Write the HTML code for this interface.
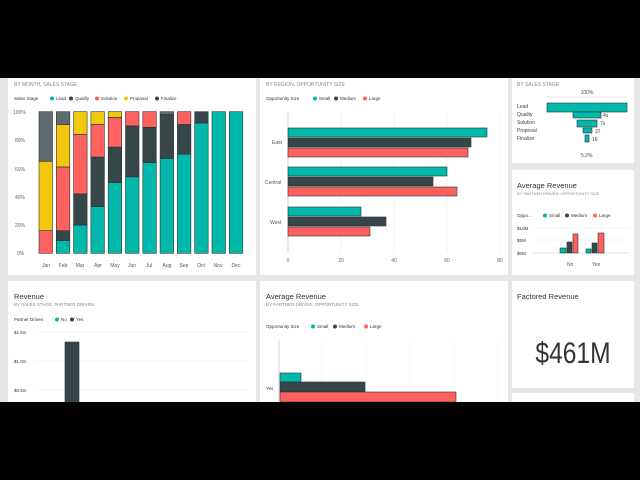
<!DOCTYPE html>
<html><head><meta charset="utf-8"><style>
html,body{margin:0;padding:0;background:#000;}
svg{display:block;font-family:"Liberation Sans",sans-serif;}
.bo rect{stroke:#2a3335;stroke-width:0.6;}
</style></head><body>
<svg width="640" height="480" viewBox="0 0 640 480" xmlns="http://www.w3.org/2000/svg">
<rect x="0" y="0" width="640" height="480" fill="#000"/>
<rect x="0" y="78" width="640" height="324" fill="#e6e6e6"/>
<rect x="8" y="74" width="248" height="201" fill="#fff"/>
<rect x="260" y="74" width="248" height="201" fill="#fff"/>
<rect x="512" y="74" width="122" height="89" fill="#fff"/>
<rect x="512" y="170" width="122" height="105" fill="#fff"/>
<rect x="8" y="281" width="248" height="125" fill="#fff"/>
<rect x="260" y="281" width="248" height="125" fill="#fff"/>
<rect x="512" y="281" width="122" height="107" fill="#fff"/>
<rect x="512" y="393" width="122" height="15" fill="#fff"/>

<text x="14" y="86" font-size="5" fill="#888">BY MONTH, SALES STAGE</text>
<g font-size="4.5" fill="#333">
<text x="14" y="100">Sales Stage</text>
<circle cx="52" cy="98.5" r="2" fill="#01b8aa"/><text x="56" y="100">Lead</text>
<circle cx="71" cy="98.5" r="2" fill="#374649"/><text x="75" y="100">Qualify</text>
<circle cx="97" cy="98.5" r="2" fill="#fd625e"/><text x="101" y="100">Solution</text>
<circle cx="126" cy="98.5" r="2" fill="#f2c80f"/><text x="130" y="100">Proposal</text>
<circle cx="157" cy="98.5" r="2" fill="#374649"/><text x="161" y="100">Finalize</text>
</g>
<g font-size="5" fill="#666">
<text x="13" y="114">100%</text><text x="15" y="142">80%</text><text x="15" y="171">60%</text>
<text x="15" y="199">40%</text><text x="15" y="227">20%</text><text x="17" y="255">0%</text>
</g>
<g id="bars1" class="bo"></g>
<g font-size="5" fill="#555" text-anchor="middle">
<text x="46" y="267">Jan</text><text x="63" y="267">Feb</text><text x="80" y="267">Mar</text><text x="98" y="267">Apr</text>
<text x="115" y="267">May</text><text x="132" y="267">Jun</text><text x="149" y="267">Jul</text><text x="167" y="267">Aug</text>
<text x="184" y="267">Sep</text><text x="201" y="267">Oct</text><text x="218" y="267">Nov</text><text x="236" y="267">Dec</text>
</g>

<text x="266" y="86" font-size="5" fill="#888">BY REGION, OPPORTUNITY SIZE</text>
<g font-size="4.5" fill="#333">
<text x="266" y="100">Opportunity Size</text>
<circle cx="315" cy="98.5" r="2" fill="#01b8aa"/><text x="319" y="100">Small</text>
<circle cx="336" cy="98.5" r="2" fill="#374649"/><text x="340" y="100">Medium</text>
<circle cx="365" cy="98.5" r="2" fill="#fd625e"/><text x="369" y="100">Large</text>
</g>
<g stroke="#eee" stroke-width="0.7">
<line x1="341" y1="112" x2="341" y2="252"/><line x1="394" y1="112" x2="394" y2="252"/>
<line x1="447" y1="112" x2="447" y2="252"/><line x1="500" y1="112" x2="500" y2="252"/>
</g>
<line x1="288" y1="112" x2="288" y2="252" stroke="#bbb" stroke-width="0.7"/>
<g class="bo">
<rect x="288" y="128" width="199" height="9" fill="#01b8aa"/>
<rect x="288" y="138" width="183" height="9" fill="#374649"/>
<rect x="288" y="148" width="180" height="9" fill="#fd625e"/>
<rect x="288" y="167" width="159" height="9" fill="#01b8aa"/>
<rect x="288" y="177" width="145" height="9" fill="#374649"/>
<rect x="288" y="187" width="169" height="9" fill="#fd625e"/>
<rect x="288" y="207" width="73" height="9" fill="#01b8aa"/>
<rect x="288" y="217" width="98" height="9" fill="#374649"/>
<rect x="288" y="227" width="82" height="9" fill="#fd625e"/>
</g>
<g font-size="5" fill="#555">
<text x="272" y="144">East</text><text x="265" y="184">Central</text><text x="270" y="224">West</text>
</g>
<g font-size="5" fill="#666" text-anchor="middle">
<text x="288" y="262">0</text><text x="341" y="262">20</text><text x="394" y="262">40</text><text x="447" y="262">60</text><text x="500" y="262">80</text>
</g>

<text x="517" y="86" font-size="5" fill="#888">BY SALES STAGE</text>
<text x="587" y="94" font-size="5" fill="#555" text-anchor="middle">100%</text>
<line x1="547" y1="97" x2="627" y2="97" stroke="#ccc" stroke-width="0.5"/>
<g class="bo">
<rect x="547" y="103" width="80" height="9" fill="#01b8aa"/>
<rect x="573" y="112" width="28" height="6" fill="#01b8aa"/>
<rect x="577" y="120" width="20" height="7" fill="#01b8aa"/>
<rect x="583" y="128" width="9" height="5" fill="#01b8aa"/>
<rect x="585" y="135" width="4" height="7" fill="#01b8aa"/>
</g>
<g font-size="5" fill="#444">
<text x="517" y="108">Lead</text><text x="517" y="116">Quality</text><text x="517" y="124">Solution</text>
<text x="517" y="132">Proposal</text><text x="517" y="140">Finalize</text>
<text x="603" y="117">4s</text><text x="600" y="125">7s</text><text x="595" y="133">37</text><text x="592" y="141">16</text>
<text x="581" y="157">5.2%</text>
</g>

<text x="517" y="188" font-size="7.5" fill="#333">Average Revenue</text>
<text x="517" y="195" font-size="4" fill="#888">BY PARTNER DRIVEN, OPPORTUNITY SIZE</text>
<g font-size="4.5" fill="#333">
<text x="517" y="217">Oppo...</text>
<circle cx="545" cy="215.5" r="2" fill="#01b8aa"/><text x="549" y="217">Small</text>
<circle cx="567" cy="215.5" r="2" fill="#374649"/><text x="571" y="217">Medium</text>
<circle cx="595" cy="215.5" r="2" fill="#fd625e"/><text x="599" y="217">Large</text>
<text x="517" y="230">$10M</text><text x="517" y="242">$5M</text><text x="517" y="255">$0M</text>
</g>
<g stroke="#eee" stroke-width="0.6"><line x1="532" y1="228" x2="630" y2="228"/><line x1="532" y1="240" x2="630" y2="240"/></g>
<line x1="532" y1="253" x2="630" y2="253" stroke="#ccc" stroke-width="0.6"/>
<g class="bo">
<rect x="560" y="248" width="6" height="5" fill="#01b8aa"/>
<rect x="567" y="242" width="5" height="11" fill="#374649"/>
<rect x="573" y="234" width="5" height="19" fill="#fd625e"/>
<rect x="586" y="249" width="5" height="4" fill="#01b8aa"/>
<rect x="592" y="243" width="5" height="10" fill="#374649"/>
<rect x="598" y="233" width="6" height="20" fill="#fd625e"/>
</g>
<g font-size="5" fill="#555"><text x="567" y="266">No</text><text x="592" y="266">Yes</text></g>

<text x="517" y="299" font-size="7.5" fill="#333">Factored Revenue</text>
<text x="573" y="363" font-size="30" fill="#333" text-anchor="middle" transform="translate(573,0) scale(0.82,1) translate(-573,0)">$461M</text>

<text x="14" y="299" font-size="7.5" fill="#333">Revenue</text>
<text x="14" y="306" font-size="4.5" fill="#888">BY SALES STAGE, PARTNER DRIVEN</text>
<g font-size="4.5" fill="#333">
<text x="14" y="321">Partner Driven</text>
<circle cx="57" cy="319.5" r="2" fill="#01b8aa"/><text x="61" y="321">No</text>
<circle cx="72" cy="319.5" r="2" fill="#374649"/><text x="76" y="321">Yes</text>
<text x="14" y="334">$1.5m</text><text x="14" y="363">$1.0m</text><text x="14" y="392">$0.5m</text>
</g>
<g stroke="#eee" stroke-width="0.6"><line x1="36" y1="332" x2="248" y2="332"/><line x1="36" y1="361" x2="248" y2="361"/><line x1="36" y1="390" x2="248" y2="390"/></g>
<g class="bo"><rect x="65" y="342" width="14" height="64" fill="#374649"/></g>

<text x="266" y="299" font-size="7.5" fill="#333">Average Revenue</text>
<text x="266" y="306" font-size="4.5" fill="#888">BY PARTNER DRIVEN, OPPORTUNITY SIZE</text>
<g font-size="4.5" fill="#333">
<text x="266" y="328">Opportunity Size</text>
<circle cx="313" cy="326.5" r="2" fill="#01b8aa"/><text x="317" y="328">Small</text>
<circle cx="335" cy="326.5" r="2" fill="#374649"/><text x="339" y="328">Medium</text>
<circle cx="366" cy="326.5" r="2" fill="#fd625e"/><text x="370" y="328">Large</text>
<text x="266" y="390">Yes</text>
</g>
<g stroke="#eee" stroke-width="0.6"><line x1="322" y1="340" x2="322" y2="402"/><line x1="366" y1="340" x2="366" y2="402"/><line x1="410" y1="340" x2="410" y2="402"/><line x1="454" y1="340" x2="454" y2="402"/><line x1="498" y1="340" x2="498" y2="402"/></g>
<line x1="279" y1="340" x2="279" y2="402" stroke="#bbb" stroke-width="0.6"/>
<g class="bo">
<rect x="280" y="373" width="21" height="9" fill="#01b8aa"/>
<rect x="280" y="382" width="85" height="10" fill="#374649"/>
<rect x="280" y="392" width="176" height="10" fill="#fd625e"/>
</g>

<rect x="0" y="0" width="640" height="78" fill="#000"/>
<rect x="0" y="402" width="640" height="78" fill="#000"/>
</svg>
<script>
(function(){
var C={t:"#01b8aa",b:"#374649",r:"#fd625e",y:"#f2c80f",g:"#5f6b6d"};
var D=[[["r",16],["y",49],["g",35]],[["t",9],["b",7],["r",45],["y",30],["g",9]],[["t",20],["b",22],["r",42],["y",16]],
[["t",33],["b",35],["r",23],["y",9]],[["t",50],["b",25],["r",21],["y",4]],[["t",54],["b",36],["r",10]],
[["t",64],["b",25],["r",11]],[["t",67],["b",31],["g",2]],[["t",70],["b",21],["r",9]],[["t",92],["b",8]],[["t",100]],[["t",100]]];
var g=document.getElementById("bars1"),ns="http://www.w3.org/2000/svg",y0=253.3,h=141.6;
D.forEach(function(s,i){var x=39+i*17.3,acc=0;s.forEach(function(p){var r=document.createElementNS(ns,"rect");
var y1=y0-(acc+p[1])/100*h;r.setAttribute("x",x);r.setAttribute("y",y1);r.setAttribute("width",13.5);
r.setAttribute("height",p[1]/100*h);r.setAttribute("fill",C[p[0]]);g.appendChild(r);acc+=p[1];});});
})();
</script>
</body></html>
